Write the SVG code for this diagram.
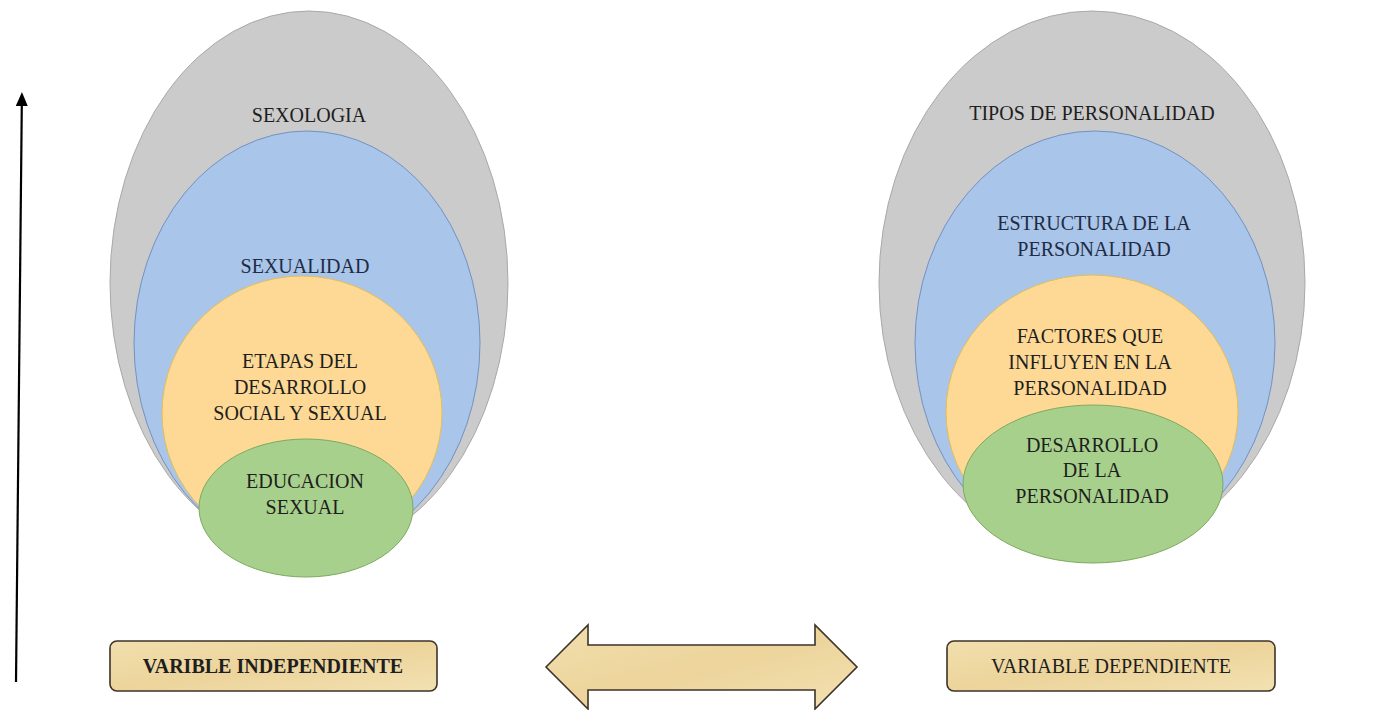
<svg xmlns="http://www.w3.org/2000/svg" width="1375" height="710" viewBox="0 0 1375 710">
<defs>
<style>
text{font-family:"Liberation Serif","Times New Roman",serif;font-size:20px;fill:#1e1e1e;text-anchor:middle}
.gray{fill:#cbcbcb;stroke:#a9a9a9;stroke-width:1}
.blue{fill:#a9c5e9;stroke:#7391c2;stroke-width:1}
.orange{fill:#fdd995;stroke:#e4bf55;stroke-width:1}
.green{fill:#a8d08d;stroke:#7eaa5e;stroke-width:1}
.navy{fill:#1f2b45}
.box{fill:url(#papyrus);stroke:#3e3328;stroke-width:1.6}
</style>
<linearGradient id="papyrus" x1="0" y1="0" x2="1" y2="1">
<stop offset="0" stop-color="#f2dfae"/>
<stop offset="0.5" stop-color="#ecd49b"/>
<stop offset="1" stop-color="#f3e1b2"/>
</linearGradient>
<marker id="ah" markerWidth="14" markerHeight="12" refX="2" refY="6" orient="auto" markerUnits="userSpaceOnUse">
<path d="M0,0 L14,6 L0,12 z" fill="#000"/>
</marker>
</defs>

<g id="left-set">
<g id="sexologia"><ellipse class="gray" cx="309" cy="283" rx="199" ry="272"/><text x="309" y="122">SEXOLOGIA</text></g>
<g id="sexualidad"><ellipse class="blue" cx="307" cy="343" rx="173" ry="212"/><text class="navy" x="305" y="273">SEXUALIDAD</text></g>
<g id="etapas"><ellipse class="orange" cx="302" cy="413" rx="140" ry="137"/>
<text x="300" y="368">ETAPAS DEL</text><text x="300" y="394">DESARROLLO</text><text x="300" y="420">SOCIAL Y SEXUAL</text></g>
<g id="educacion"><ellipse class="green" cx="306" cy="508" rx="107" ry="69"/>
<text x="305" y="488">EDUCACION</text><text x="305" y="514">SEXUAL</text></g>
</g>

<g id="right-set">
<g id="tipos"><ellipse class="gray" cx="1092" cy="283" rx="213" ry="272"/><text x="1092" y="120">TIPOS DE PERSONALIDAD</text></g>
<g id="estructura"><ellipse class="blue" cx="1095" cy="343" rx="180" ry="212"/>
<text class="navy" x="1094" y="230">ESTRUCTURA DE LA</text><text class="navy" x="1094" y="256">PERSONALIDAD</text></g>
<g id="factores"><ellipse class="orange" cx="1092" cy="412" rx="146" ry="137"/>
<text x="1090" y="343">FACTORES QUE</text><text x="1090" y="369">INFLUYEN EN LA</text><text x="1090" y="395">PERSONALIDAD</text></g>
<g id="desarrollo"><ellipse class="green" cx="1093" cy="484" rx="130" ry="79"/>
<text x="1092" y="452">DESARROLLO</text><text x="1092" y="477">DE LA</text><text x="1092" y="503">PERSONALIDAD</text></g>
</g>

<g id="var-independiente">
<rect class="box" x="110" y="641" width="327" height="50" rx="7"/>
<text x="273" y="673" style="font-weight:bold">VARIBLE INDEPENDIENTE</text>
</g>
<g id="var-dependiente">
<rect class="box" x="947" y="641" width="328" height="50" rx="7"/>
<text x="1111" y="673">VARIABLE DEPENDIENTE</text>
</g>

<g id="connectors">
<line x1="16" y1="682" x2="21.8" y2="104" stroke="#000" stroke-width="2.2" marker-end="url(#ah)"/>
<path class="box" d="M546,667 L588,625 L588,645 L815,645 L815,625 L857,667 L815,709 L815,690 L588,690 L588,709 Z" stroke-linejoin="miter"/>
</g>
</svg>
